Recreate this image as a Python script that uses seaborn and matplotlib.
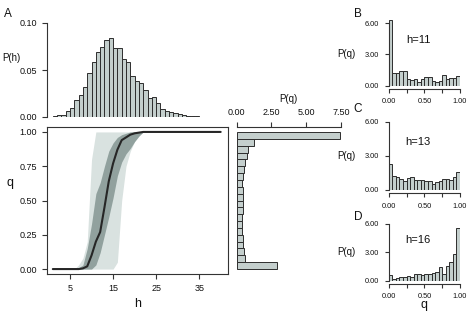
import numpy as np
import pandas as pd
import seaborn as sns
import matplotlib.pyplot as plt

# P(h): histogram of h, bins of width 1 starting at h=1
h_edges = list(range(1, 41))
p_h = [0.001, 0.002, 0.002, 0.006, 0.010, 0.018, 0.023, 0.032, 0.047, 0.058,
       0.069, 0.074, 0.082, 0.084, 0.073, 0.0735, 0.062, 0.059, 0.044, 0.038,
       0.036, 0.029, 0.020, 0.021, 0.015, 0.008, 0.006, 0.005, 0.004, 0.003,
       0.002, 0.0015, 0.001, 0.0015, 0.0005, 0.0005, 0.0005, 0.0003, 0.0003]

# q as a function of h: median and two quantile bands
h_vals = np.arange(1, 41)
q_med = [0, 0, 0, 0, 0, 0, 0, 0.005, 0.02, 0.1, 0.2, 0.27, 0.45, 0.64, 0.77,
         0.87, 0.94, 0.96, 0.98, 0.99, 0.995] + [1.0] * 19
q_in_lo = [0] * 10 + [0.03, 0.12, 0.25, 0.38, 0.52, 0.68, 0.78, 0.84, 0.88,
                      0.93, 0.97] + [1.0] * 19
q_in_hi = [0, 0, 0, 0, 0, 0, 0.01, 0.03, 0.15, 0.33, 0.55, 0.63, 0.75, 0.86,
           0.92, 0.96, 0.98, 0.99] + [1.0] * 22
q_out_lo = [0] * 15 + [0.05, 0.5, 0.75, 0.86, 0.93, 0.97] + [1.0] * 19
q_out_hi = [0, 0, 0, 0, 0, 0.0, 0.03, 0.08, 0.2, 0.8] + [1.0] * 30

# P(q): 20 bins on [0, 1]
q_edges = [i / 20 for i in range(21)]
p_q_all = [2.93, 0.60, 0.53, 0.48, 0.48, 0.36, 0.41, 0.38, 0.43, 0.43,
           0.43, 0.48, 0.36, 0.43, 0.55, 0.62, 0.72, 0.84, 1.25, 7.45]
p_q_h11 = [6.3, 1.25, 1.25, 1.45, 1.45, 0.6, 0.5, 0.6, 0.35, 0.6,
           0.8, 0.8, 0.45, 0.3, 0.4, 1.05, 0.65, 0.7, 0.7, 0.9]
p_q_h13 = [2.3, 1.24, 1.15, 0.95, 0.8, 1.04, 1.1, 0.9, 0.9, 0.86,
           0.75, 0.75, 0.52, 0.69, 0.8, 0.95, 0.95, 0.9, 1.1, 1.6]
p_q_h16 = [0.54, 0.14, 0.29, 0.39, 0.36, 0.5, 0.39, 0.71, 0.64, 0.61,
           0.64, 0.64, 0.79, 0.89, 1.43, 0.71, 1.54, 1.96, 2.79, 5.54]

W, H = 471, 319
BAR = '#c4cfcd'
EDGE = '#2e2e2e'
INK = '#333333'
LIGHT = '#d9e2e0'
DARK = '#91a19e'

sns.set_style('ticks')
plt.rcParams['font.family'] = ['Liberation Sans', 'DejaVu Sans']
plt.rcParams['axes.edgecolor'] = INK
plt.rcParams['axes.linewidth'] = 0.8
plt.rcParams['xtick.color'] = INK
plt.rcParams['ytick.color'] = INK
plt.rcParams['xtick.major.width'] = 0.8
plt.rcParams['ytick.major.width'] = 0.8
plt.rcParams['xtick.major.size'] = 3.8
plt.rcParams['ytick.major.size'] = 3.8
plt.rcParams['xtick.labelsize'] = 6.5
plt.rcParams['ytick.labelsize'] = 6.5
plt.rcParams['xtick.labelcolor'] = '#111111'
plt.rcParams['ytick.labelcolor'] = '#111111'


def px(l, t, r, b):
    return [l / W, 1 - b / H, (r - l) / W, (b - t) / H]


def ftext(x, y, s, size, **kw):
    fig.text(x / W, 1 - y / H, s, fontsize=size, ha='center', va='center',
             color='#111111', **kw)


def hist(ax, edges, dens, vertical=True):
    centers = [(a + b) / 2 for a, b in zip(edges[:-1], edges[1:])]
    d = pd.DataFrame({'c': centers, 'w': dens})
    kw = dict(data=d, weights='w', bins=edges, color=BAR, edgecolor=EDGE,
              linewidth=0.7, alpha=1, ax=ax)
    if vertical:
        sns.histplot(x='c', **kw)
    else:
        sns.histplot(y='c', **kw)
    ax.set_xlabel('')
    ax.set_ylabel('')


fig = plt.figure(figsize=(W / 100, H / 100), dpi=100)
hlim = (-0.35, 41.7)
qlim = (-0.036, 1.036)

# top: P(h)
ax_ph = fig.add_axes(px(47, 23, 228, 117))
hist(ax_ph, h_edges, p_h)
ax_ph.set_xlim(hlim)
ax_ph.set_ylim(0, 0.1)
ax_ph.set_yticks([0, 0.05, 0.10], ['0.00', '0.05', '0.10'])
ax_ph.set_xticks([])
for s in ['top', 'right', 'bottom']:
    ax_ph.spines[s].set_visible(False)

# main: q vs h
ax = fig.add_axes(px(47, 127, 228, 274))
ax.fill_between(h_vals, q_out_lo, q_out_hi, color=LIGHT, lw=0)
ax.fill_between(h_vals, q_in_lo, q_in_hi, color=DARK, lw=0)
sns.lineplot(x=h_vals, y=q_med, color='#262626', lw=1.5, ax=ax)
ax.set_xlim(hlim)
ax.set_ylim(qlim)
ax.set_xticks([5, 15, 25, 35])
ax.set_yticks([0, 0.25, 0.5, 0.75, 1.0], ['0.00', '0.25', '0.50', '0.75', '1.00'])

# right: P(q) horizontal
ax_pq = fig.add_axes(px(236.7, 127, 341, 274))
hist(ax_pq, q_edges, p_q_all, vertical=False)
ax_pq.set_ylim(qlim)
ax_pq.set_xlim(0, 7.5)
ax_pq.xaxis.tick_top()
ax_pq.set_xticks([0, 2.5, 5, 7.5], ['0.00', '2.50', '5.00', '7.50'])
ax_pq.set_yticks([])
for s in ['left', 'right', 'bottom']:
    ax_pq.spines[s].set_visible(False)

# B, C, D  (pixel rows of y=6 and y=0)
small = [(p_q_h11, (23.3, 85.6), 'B', 'h=11', 14, 40),
         (p_q_h13, (121.5, 190), 'C', 'h=13', 109, 142),
         (p_q_h16, (224, 280.5), 'D', 'h=16', 217, 240)]
ytop = 6.4
for dens, (y6, y0), letter, lab, ly, hy in small:
    t = y0 - (y0 - y6) * ytop / 6
    a = fig.add_axes(px(388.8, t, 460, y0))
    hist(a, q_edges, dens)
    a.set_xlim(0, 1)
    a.set_ylim(0, ytop)
    a.set_xticks([0, 0.25, 0.5, 0.75, 1.0], ['0.00', '', '0.50', '', '1.00'])
    a.set_yticks([0, 3, 6], ['0.00', '3.00', '6.00'])
    a.tick_params(labelsize=5.3, length=3.2)
    a.spines['bottom'].set_position(('outward', 2.5))
    a.spines['bottom'].set_bounds(0, 1)
    a.spines['left'].set_bounds(0, 6)
    for s in ['top', 'right']:
        a.spines[s].set_visible(False)
    ftext(358, ly, letter, 8.5)
    ftext(418, hy, lab, 8)
    ftext(346, (y6 + y0) / 2, 'P(q)', 7)

ftext(8, 14, 'A', 8.5)
ftext(11, 58, 'P(h)', 7)
ftext(10, 183, 'q', 9)
ftext(137.5, 304, 'h', 9)
ftext(288.8, 99, 'P(q)', 7)
ftext(424, 305, 'q', 9)

fig.savefig('out.png', dpi=100)
